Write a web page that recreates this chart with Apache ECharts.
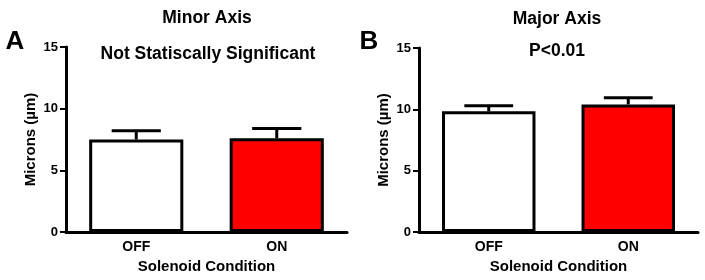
<!DOCTYPE html>
<html>
<head>
<meta charset="utf-8">
<script src="https://cdn.jsdelivr.net/npm/echarts@6/dist/echarts.min.js"></script>
<style>
html, body { margin: 0; padding: 0; background: #fff; }
#chart { width: 705px; height: 280px; }
</style>
</head>
<body>
<div id="chart"></div>
<script>
var categories = ['OFF', 'ON'];
var yTicks = [0, 5, 10, 15];
// minor axis (panel A)
var minorMean = [7.5, 7.6];
var minorUpper = [8.2, 8.4];
// major axis (panel B)
var majorMean = [9.85, 10.4];
var majorUpper = [10.3, 10.95];

var FONT = 'Liberation Sans, Arial, sans-serif';
var fills = ['#ffffff', '#ff0000'];

function barData(vals) {
    var out = [];
    for (var i = 0; i < vals.length; i++) {
        out.push({ value: vals[i], itemStyle: { color: fills[i] } });
    }
    return out;
}

function errData(mean, upper) {
    var out = [];
    for (var i = 0; i < mean.length; i++) {
        out.push([i, mean[i], upper[i]]);
    }
    return out;
}

function renderErr(params, api) {
    var top = api.coord([api.value(0), api.value(2)]);
    var base = api.coord([api.value(0), api.value(1)]);
    var half = api.size([1, 0])[0] * 0.175;
    var st = { stroke: '#000', lineWidth: 3 };
    return {
        type: 'group',
        children: [
            { type: 'line', shape: { x1: top[0], y1: base[1], x2: top[0], y2: top[1] }, style: st },
            { type: 'line', shape: { x1: top[0] - half, y1: top[1], x2: top[0] + half, y2: top[1] }, style: st }
        ]
    };
}

function xAx(idx) {
    return {
        type: 'category',
        gridIndex: idx,
        data: categories,
        name: 'Solenoid Condition',
        nameLocation: 'middle',
        nameGap: 27,
        nameTextStyle: { color: '#000', fontFamily: FONT, fontWeight: 'bold', fontSize: 15 },
        axisLine: { lineStyle: { color: '#000', width: 3 } },
        axisTick: { alignWithLabel: true, length: 5, lineStyle: { color: '#000', width: 2 } },
        axisLabel: { color: '#000', fontFamily: FONT, fontWeight: 'bold', fontSize: 14, margin: 8 }
    };
}

function yAx(idx) {
    return {
        type: 'value',
        gridIndex: idx,
        min: yTicks[0],
        max: yTicks[yTicks.length - 1],
        interval: yTicks[1] - yTicks[0],
        name: 'Microns (\u00b5m)',
        nameLocation: 'middle',
        nameRotate: 90,
        nameGap: 28,
        nameTextStyle: { color: '#000', fontFamily: FONT, fontWeight: 'bold', fontSize: 15 },
        axisLine: { show: true, lineStyle: { color: '#000', width: 3 } },
        axisTick: { show: true, inside: false, length: 6, lineStyle: { color: '#000', width: 2 } },
        axisLabel: { color: '#000', fontFamily: FONT, fontWeight: 'bold', fontSize: 13, margin: 8 },
        splitLine: { show: false }
    };
}

function txt(x, y, s, size) {
    return {
        type: 'text', x: x, y: y,
        style: { text: s, fill: '#000', font: 'bold ' + size + 'px ' + FONT, textAlign: 'center', textVerticalAlign: 'middle' }
    };
}

var chart = echarts.init(document.getElementById('chart'));
var option = {
    backgroundColor: '#ffffff',
    animation: false,
    grid: [
        { left: 66, right: 358, top: 47, bottom: 48 },
        { left: 419, right: 7, top: 48, bottom: 48 }
    ],
    xAxis: [xAx(0), xAx(1)],
    yAxis: [yAx(0), yAx(1)],
    graphic: [
        txt(15, 42, 'A', 26),
        txt(369, 42, 'B', 26),
        txt(207, 18, 'Minor Axis', 17.5),
        txt(208, 54, 'Not Statiscally Significant', 17.5),
        txt(557, 19, 'Major Axis', 17.5),
        txt(557, 51, 'P<0.01', 17.5)
    ],
    series: [
        {
            type: 'bar', xAxisIndex: 0, yAxisIndex: 0, barWidth: '67%',
            itemStyle: { borderColor: '#000', borderWidth: 3 },
            data: barData(minorMean)
        },
        {
            type: 'custom', xAxisIndex: 0, yAxisIndex: 0, renderItem: renderErr,
            data: errData(minorMean, minorUpper)
        },
        {
            type: 'bar', xAxisIndex: 1, yAxisIndex: 1, barWidth: '67%',
            itemStyle: { borderColor: '#000', borderWidth: 3 },
            data: barData(majorMean)
        },
        {
            type: 'custom', xAxisIndex: 1, yAxisIndex: 1, renderItem: renderErr,
            data: errData(majorMean, majorUpper)
        }
    ]
};
chart.setOption(option);
</script>
</body>
</html>
